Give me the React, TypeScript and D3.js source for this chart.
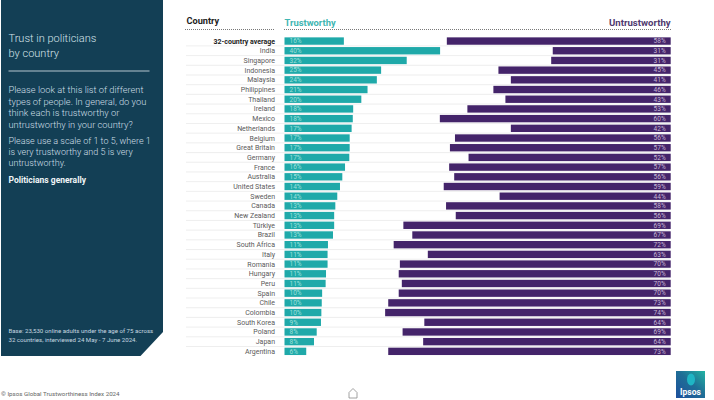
import React from 'react';
import * as d3 from 'd3';

const countries = ['32-country average', 'India', 'Singapore', 'Indonesia', 'Malaysia', 'Philippines', 'Thailand', 'Ireland', 'Mexico', 'Netherlands', 'Belgium', 'Great Britain', 'Germany', 'France', 'Australia', 'United States', 'Sweden', 'Canada', 'New Zealand', 'Türkiye', 'Brazil', 'South Africa', 'Italy', 'Romania', 'Hungary', 'Peru', 'Spain', 'Chile', 'Colombia', 'South Korea', 'Poland', 'Japan', 'Argentina'];
// bar lengths, labels are the printed (rounded) figures
const trustworthy = [15.3, 40.1, 31.5, 24.9, 23.8, 21.4, 19.8, 17.7, 17.6, 17.3, 16.8, 16.8, 16.7, 15.6, 14.9, 14.3, 13.6, 13.1, 12.8, 12.8, 12.5, 11.2, 11.1, 11.1, 10.7, 10.6, 9.7, 9.6, 9.5, 9.4, 8.3, 7.6, 5.6];
const untrustworthy = [57.7, 30.4, 30.8, 44.4, 41.2, 45.7, 42.6, 52.4, 59.5, 41.2, 55.6, 56.9, 52.1, 57.1, 55.8, 58.5, 44.1, 57.9, 55.4, 68.9, 66.6, 71.4, 62.6, 69.8, 70.1, 69.3, 70.1, 72.8, 73.6, 63.5, 69.1, 63.8, 72.8];
const trustLabels = [16, 40, 32, 25, 24, 21, 20, 18, 18, 17, 17, 17, 17, 16, 15, 14, 14, 13, 13, 13, 13, 11, 11, 11, 11, 11, 10, 10, 10, 9, 8, 8, 6];
const untrustLabels = [58, 31, 31, 45, 41, 46, 43, 53, 60, 42, 56, 57, 52, 57, 56, 59, 44, 58, 56, 69, 67, 72, 63, 70, 70, 70, 70, 73, 74, 64, 69, 64, 73];

const titleLines = ['Trust in politicians', 'by country'];
const questionLines = ['Please look at this list of different', 'types of people. In general, do you', 'think each is trustworthy or', 'untrustworthy in your country?'];
const scaleLines = ['Please use a scale of 1 to 5, where 1', 'is very trustworthy and 5 is very', 'untrustworthy.'];
const baseLines = ['Base: 23,530 online adults under the age of 75 across', '32 countries, interviewed 24 May - 7 June 2024.'];

const WIDTH = 714;
const HEIGHT = 400;
const FONT = 'Roboto, sans-serif';
const TEAL = '#1fa9a9';
const PURPLE = '#44246a';
const NAVY = '#133f55';

const App = () => {
  const y = d3.scaleBand<string>().domain(countries).range([36.2, 356.2]).paddingInner(0.24).paddingOuter(0.12);
  const len = d3.scaleLinear().domain([0, 100]).range([0, 388]);
  const barLeft = 284.5;
  const barRight = 670.7;
  const step = y.step();

  return (
    <svg width={WIDTH} height={HEIGHT} style={{ position: 'absolute', left: 0, top: 0, fontFamily: FONT }}>
      <rect width={WIDTH} height={HEIGHT} fill="#fff" />

      {/* left panel with the cut corner */}
      <path d="M1,0H163V332L140.500,356H1Z" fill={NAVY} />
      <g fill="#d5e3e9">
        {titleLines.map((t, i) => <text key={t} x={8.500} y={42 + i * 15} fontSize={11} fontWeight={300}>{t}</text>)}
        <line x1={8.500} x2={149.500} y1={71} y2={71} stroke="#dfe9ee" strokeWidth={0.8} />
        {questionLines.map((t, i) => <text key={t} x={8.500} y={93.300 + i * 11.400} fontSize={9.300} fontWeight={300} fill="#cfdfe6">{t}</text>)}
        {scaleLines.map((t, i) => <text key={t} x={8.500} y={143.500 + i * 11.400} fontSize={9} fontWeight={300} fill="#cfdfe6">{t}</text>)}
        <text x={8.500} y={182.500} fontSize={8.500} fontWeight={700} fill="#f1f6f8">Politicians generally</text>
        {baseLines.map((t, i) => <text key={t} x={8.500} y={332.500 + i * 9.500} fontSize={6.100} fill="#c6d8e0">{t}</text>)}
      </g>

      {/* headers */}
      <text x={186.500} y={24} fontSize={9.200} fontWeight={700} fill="#1d1d1d">Country</text>
      <text x={284.500} y={25.500} fontSize={9.400} fontWeight={700} fill="#3fb6b2">Trustworthy</text>
      <text x={670.700} y={25.500} fontSize={9.600} fontWeight={700} fill="#4f3a6e" textAnchor="end">Untrustworthy</text>
      <line x1={185} x2={274} y1={29.500} y2={29.500} stroke="#555" strokeWidth={0.8} strokeDasharray="1 1" />
      <line x1={284} x2={671} y1={29.500} y2={29.500} stroke="#555" strokeWidth={0.8} strokeDasharray="1 1" />

      {countries.map((c, i) => {
        const top = y(c) as number;
        const mid = top + y.bandwidth() / 2;
        const tw = len(trustworthy[i]);
        const uw = len(untrustworthy[i]);
        const sep = top + y.bandwidth() + (step - y.bandwidth()) / 2;
        return (
          <g key={c}>
            {i < countries.length - 1 && (
              <line x1={186} x2={670} y1={sep} y2={sep} stroke="#e2e2e2" strokeWidth={0.6} />
            )}
            <text x={275} y={mid + 2.500} fontSize={7} textAnchor="end" fontWeight={i === 0 ? 700 : 400} fill={i === 0 ? '#222' : '#5a5a5a'}>{c}</text>
            <rect x={barLeft} y={top} width={tw} height={y.bandwidth()} fill={TEAL} />
            <rect x={barRight - uw} y={top} width={uw} height={y.bandwidth()} fill={PURPLE} />
            <text x={barLeft + 5} y={mid + 2.300} fontSize={6.500} fill="#9fe0dc">{trustLabels[i]}%</text>
            <text x={barRight - 5} y={mid + 2.300} fontSize={6.500} fill="#c4b6d4" textAnchor="end">{untrustLabels[i]}%</text>
          </g>
        );
      })}

      {/* footer */}
      <text x={1} y={396} fontSize={6.200} fill="#666">© Ipsos Global Trustworthiness Index 2024</text>
      <path d="M349,398V392.500L353,388.500L357,392.500V398Z" fill="none" stroke="#8a8a8a" strokeWidth={0.8} />

      {/* logo */}
      <defs>
        <linearGradient id="logo-bg" x1="0" y1="1" x2="1" y2="0">
          <stop offset="0%" stopColor="#1d4f9c" />
          <stop offset="55%" stopColor="#1f6f96" />
          <stop offset="100%" stopColor="#22b3a3" />
        </linearGradient>
      </defs>
      <rect x={676} y={371} width={29} height={27} fill="url(#logo-bg)" />
      <ellipse cx={691} cy={379.500} rx={4} ry={6} fill="#1fb5c4" />
      <text x={690.500} y={394.500} fontSize={8.500} fontWeight={700} fill="#fff" textAnchor="middle">Ipsos</text>
    </svg>
  );
};

export default App;
